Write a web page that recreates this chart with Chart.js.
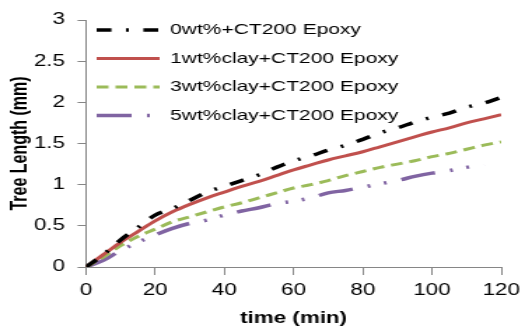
<!DOCTYPE html>
<html>
<head>
<meta charset="utf-8">
<script src="https://cdn.jsdelivr.net/npm/chart.js@4"></script>
<style>
  html, body { margin: 0; padding: 0; background: #fff; overflow: hidden; }
  /* the source picture is stretched sideways, so draw narrow and stretch */
  #c { display: block; transform: scaleX(1.4); transform-origin: 0 0; }
</style>
</head>
<body>
<canvas id="c" width="378" height="329"></canvas>
<script>
// time (min)
const times = [0, 5, 10, 15, 20, 25, 30, 35, 40, 45, 50, 55, 60, 65, 70, 75, 80, 85, 90, 95, 100, 105, 110, 115, 120];

// tree length (mm)
const clay0 = [0, 0.15, 0.33, 0.48, 0.63, 0.71, 0.81, 0.91, 0.98, 1.05, 1.12, 1.21, 1.29, 1.35, 1.42, 1.48, 1.55, 1.63, 1.69, 1.76, 1.82, 1.87, 1.94, 1.99, 2.06];
const clay1 = [0, 0.15, 0.30, 0.43, 0.56, 0.67, 0.76, 0.84, 0.91, 0.98, 1.04, 1.11, 1.18, 1.24, 1.30, 1.35, 1.40, 1.46, 1.52, 1.58, 1.64, 1.69, 1.75, 1.80, 1.85];
const clay3 = [0, 0.12, 0.26, 0.37, 0.46, 0.55, 0.61, 0.67, 0.73, 0.78, 0.84, 0.90, 0.96, 1.00, 1.05, 1.11, 1.16, 1.21, 1.25, 1.29, 1.34, 1.38, 1.43, 1.48, 1.52];
const clay5 = [0, 0.08, 0.20, 0.30, 0.39, 0.47, 0.53, 0.57, 0.63, 0.68, 0.72, 0.77, 0.80, 0.84, 0.90, 0.93, 0.97, 1.01, 1.05, 1.10, 1.14, 1.17, 1.21, 1.25, null];

const seriesNames = ['0wt%+CT200 Epoxy', '1wt%clay+CT200 Epoxy', '3wt%clay+CT200 Epoxy', '5wt%clay+CT200 Epoxy'];

const xTicks = [0, 20, 40, 60, 80, 100, 120];
const yTicks = [0, 0.5, 1, 1.5, 2, 2.5, 3];

function pts(vals) {
  return times.map((t, i) => ({ x: t, y: vals[i] }));
}

function line(label, vals, color, width, dash) {
  return {
    label,
    data: pts(vals),
    borderColor: color,
    backgroundColor: color,
    borderWidth: width,
    borderDash: dash,
    borderCapStyle: 'butt',
    pointRadius: 0,
    cubicInterpolationMode: 'monotone',
    fill: false,
    spanGaps: false
  };
}

// nudge the legend to where the original sits
const legendSpot = {
  id: 'legendSpot',
  beforeDraw(chart) {
    if (!chart.legend) return;
    chart.legend.left = 67;
    chart.legend.top = 20.5;
  }
};

const axisGrey = '#868686';

new Chart(document.getElementById('c'), {
  type: 'line',
  data: {
    datasets: [
      line(seriesNames[0], clay0, '#000000', 3.5, [10.6, 10.4, 2, 10.4]),
      line(seriesNames[1], clay1, '#C0504D', 3, []),
      line(seriesNames[2], clay3, '#9BBB59', 3, [8.5, 5]),
      line(seriesNames[3], clay5, '#8064A2', 3.5, [25, 11, 2, 10, 2, 11])
    ]
  },
  options: {
    responsive: false,
    animation: false,
    devicePixelRatio: 1,
    layout: { padding: { top: 20, right: 20, bottom: 0, left: 0 } },
    plugins: {
      tooltip: { enabled: false },
      legend: {
        position: 'chartArea',
        align: 'start',
        labels: {
          usePointStyle: true,
          pointStyleWidth: 45,
          padding: 2,
          color: '#000',
          font: { family: 'Arial, "Liberation Sans", sans-serif', size: 15, lineHeight: '26.5px' },
          generateLabels(chart) {
            return chart.data.datasets.map((ds, i) => ({
              text: [ds.label],
              strokeStyle: ds.borderColor,
              fillStyle: ds.borderColor,
              lineWidth: ds.borderWidth,
              lineDash: ds.borderDash,
              lineCap: 'butt',
              pointStyle: 'line',
              hidden: false,
              datasetIndex: i
            }));
          }
        }
      }
    },
    scales: {
      x: {
        type: 'linear',
        min: 0,
        max: 120,
        afterBuildTicks(scale) { scale.ticks = xTicks.map(v => ({ value: v })); },
        afterFit(scale) { scale.height = 62; },
        border: { color: axisGrey, width: 1 },
        grid: { drawOnChartArea: false, drawTicks: true, tickLength: 8, color: axisGrey },
        ticks: {
          color: '#000',
          padding: 6,
          maxRotation: 0,
          callback: v => String(v),
          font: { family: 'Arial, "Liberation Sans", sans-serif', size: 16 }
        },
        title: {
          display: true,
          text: 'time (min)',
          color: '#000',
          padding: { top: 0, bottom: 1 },
          font: { family: 'Arial, "Liberation Sans", sans-serif', size: 16, weight: 'bold' }
        }
      },
      y: {
        min: 0,
        max: 3,
        afterBuildTicks(scale) { scale.ticks = yTicks.map(v => ({ value: v })); },
        afterFit(scale) { scale.width = 61.4; },
        border: { color: axisGrey, width: 1 },
        grid: { drawOnChartArea: false, drawTicks: true, tickLength: 6, color: axisGrey },
        ticks: {
          color: '#000',
          padding: 9,
          callback: v => String(v),
          font: { family: 'Arial, "Liberation Sans", sans-serif', size: 16 }
        },
        title: {
          display: true,
          text: 'Tree Length (mm)',
          color: '#000',
          padding: { top: 5, bottom: 0 },
          font: { family: 'Arial, "Liberation Sans", sans-serif', size: 16, weight: 'bold' }
        }
      }
    }
  },
  plugins: [legendSpot]
});
</script>
</body>
</html>
